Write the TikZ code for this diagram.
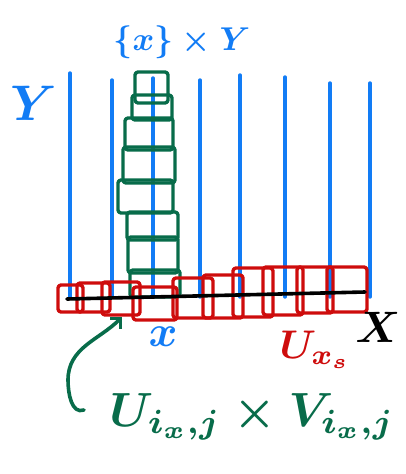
\documentclass[tikz,border=0pt]{standalone}
\usepackage{amsmath}
\usetikzlibrary{arrows.meta}
\definecolor{penblue}{RGB}{18,124,245}
\definecolor{pengreen}{RGB}{8,108,74}
\definecolor{penred}{RGB}{206,12,12}

\begin{document}
\begin{tikzpicture}[x=1pt, y=-1pt, line cap=round, line join=round,
    fibre/.style={draw=penblue, line width=3.4pt},
    vbox/.style={draw=pengreen, line width=3.4pt, rounded corners=3pt},
    ubox/.style={draw=penred, line width=3.4pt, rounded corners=3pt},
    axisline/.style={draw=black, line width=3.6pt},
    link/.style={draw=pengreen, line width=3.6pt, -{Straight Barb[length=7pt, width=14pt, line width=3.4pt]}},
    tag/.style={inner sep=0pt, anchor=base, font=\normalsize\boldmath}]

    \useasboundingbox (0,0) rectangle (406,474);

    % vertical fibres
    \foreach \x/\t in {70/73, 112/80, 153/78, 200/80, 240/75, 285/77, 330/83, 370/83}
      \draw [fibre] (\x,\t) -- (\x,297);

    % stack of boxes over the fibre
    \foreach \a/\b/\c/\d in {135/72/168/103, 132/95/172/120, 125/118/173/150, 123/147/175/183,
                             118/180/173/213, 127/212/178/240, 128/237/178/273, 130/270/180/297}
      \draw [vbox] (\a,\b) rectangle (\c,\d);

    % cover of the base
    \foreach \a/\b/\c/\d in {58/285/83/312, 77/283/110/312, 102/282/140/315, 133/287/177/320,
                             173/278/213/318, 203/275/243/318, 233/268/273/317, 263/267/303/315,
                             297/267/333/313, 327/267/367/312}
      \draw [ubox] (\a,\b) rectangle (\c,\d);

    % base
    \coordinate (xleft) at (67,299);
    \coordinate (xright) at (365,292);
    \draw [axisline] (xleft) -- (xright);

    % labels
    \node [tag, text=penblue, scale=3.3] (fibrelabel) at (182,50) {$\{x\}\times Y$};
    \node [tag, text=penblue, scale=5.0] (ylabel) at (34,120) {$Y$};
    \node [tag, text=black, scale=4.4] (xlabel) at (378,342) {$X$};
    \node [tag, text=penblue, scale=4.4] (ptlabel) at (163,346) {$x$};
    \node [tag, text=penred, scale=4.0] (ulabel) at (315,358) {$U_{x_s}$};
    \node [tag, text=pengreen, scale=4.8] (vlabel) at (252,426) {$U_{i_x,j}\times V_{i_x,j}$};

    % arrow to the chosen box
    \coordinate (tail) at (84,410);
    \coordinate (head) at (122,317);
    \draw [link] (tail) to[out=200, in=270] (68,380) to[out=90, in=225] (head);
\end{tikzpicture}
\end{document}
